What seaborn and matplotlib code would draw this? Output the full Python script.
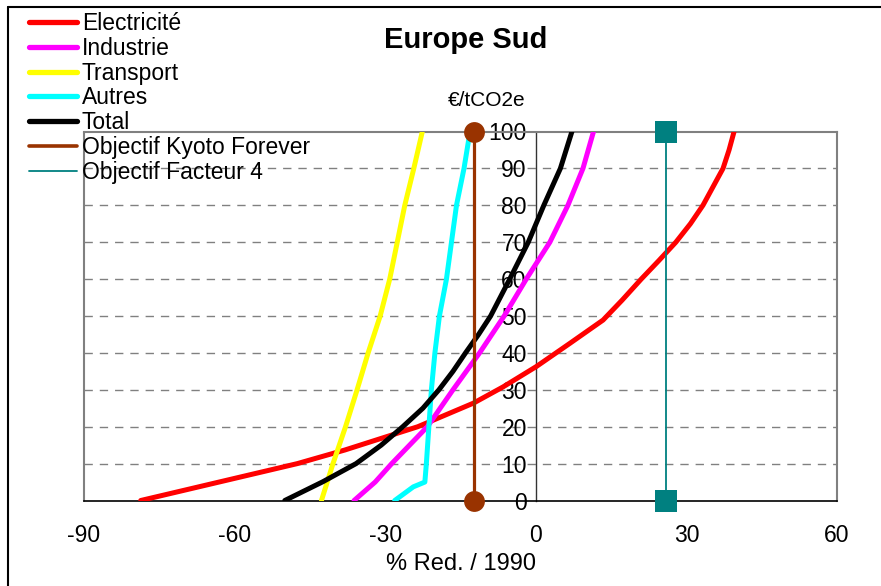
import matplotlib
matplotlib.use("Agg")
import matplotlib.pyplot as plt
from matplotlib.lines import Line2D
import seaborn as sns
import numpy as np

# ---- data ----
elec_y = [0, 10, 13.7, 20, 26.4, 30.8, 36.3, 42.6, 48.9, 54.3, 60, 65, 70, 75, 80, 85, 90, 95, 100]
elec_x = [-78.7, -47.5, -38.0, -23.5, -12.4, -6.5, 0.1, 6.8, 13.4, 17.2, 21.0, 24.5, 27.9,
          30.8, 33.3, 35.3, 37.3, 38.5, 39.5]

ind_y = [0, 5, 10, 20, 30, 40, 50, 60, 70, 80, 90, 100]
ind_x = [-36.2, -32.0, -28.7, -21.6, -16.5, -11.2, -6.3, -1.9, 2.8, 6.4, 9.4, 11.5]

trans_y = [0, 10, 20, 30, 40, 50, 60, 70, 80, 90, 100]
trans_x = [-42.7, -40.4, -37.9, -35.6, -33.4, -31.0, -29.1, -27.6, -26.1, -24.3, -22.6]

autres_y = [0, 3.7, 5, 10, 20, 30, 40, 50, 60, 70, 80, 90, 100]
autres_x = [-28.1, -24.4, -22.1, -21.8, -21.3, -20.8, -20.1, -19.2, -17.8, -16.8, -15.8, -14.3, -13.1]

total_y = [0, 5.1, 10, 15, 20, 25, 30, 35, 40, 45, 50, 60, 70, 80, 90, 100]
total_x = [-50.0, -42.4, -35.8, -30.8, -26.5, -22.5, -19.3, -16.5, -14.0, -11.4, -9.0,
           -5.2, -1.5, 1.6, 4.9, 7.2]

kyoto_x = [-12.4, -12.4]
kyoto_y = [0, 100]
f4_x = [26.0, 26.0]
f4_y = [0, 100]

labels = ["Electricité", "Industrie", "Transport", "Autres", "Total",
          "Objectif Kyoto Forever", "Objectif Facteur 4"]
colors = ["#FF0000", "#FF00FF", "#FFFF00", "#00FFFF", "#000000", "#993300", "#008080"]

xticks = [-90, -60, -30, 0, 30, 60]
yticks = [0, 10, 20, 30, 40, 50, 60, 70, 80, 90, 100]

# ---- figure ----
sns.set_style("white")
plt.rcParams['font.family'] = ['Liberation Sans', 'DejaVu Sans']
plt.rcParams['text.color'] = 'black'
plt.rcParams['xtick.color'] = 'black'
plt.rcParams['ytick.color'] = 'black'
plt.rcParams['axes.labelcolor'] = 'black'

fig = plt.figure(figsize=(8.81, 5.86), dpi=100)
ax = fig.add_axes([84/881, 1-500.5/586, (837-84)/881, (500.5-131.5)/586])

ax.set_xlim(-90, 60)
ax.set_ylim(0, 100)

# grid
for yv in yticks[1:-1]:
    ax.axhline(yv, color="#808080", lw=1.0, linestyle=(0, (6, 5)), zorder=0.5)

series = [(elec_x, elec_y), (ind_x, ind_y), (trans_x, trans_y),
          (autres_x, autres_y), (total_x, total_y)]
for (xs, ys), c in zip(series, colors[:5]):
    sns.lineplot(x=xs, y=ys, sort=False, estimator=None, ax=ax, color=c, lw=3.6,
                 solid_capstyle='round', solid_joinstyle='round', zorder=3)

sns.lineplot(x=kyoto_x, y=kyoto_y, sort=False, estimator=None, ax=ax,
             color=colors[5], lw=2.3, marker='o', markersize=15,
             markeredgewidth=0, clip_on=False, zorder=4)
sns.lineplot(x=f4_x, y=f4_y, sort=False, estimator=None, ax=ax,
             color=colors[6], lw=1.3, marker='s', markersize=16.5,
             markeredgewidth=0, clip_on=False, zorder=4)

# spines
for s in ['top', 'right']:
    ax.spines[s].set_color("#808080")
    ax.spines[s].set_linewidth(1.5)
ax.spines['bottom'].set_color("black")
ax.spines['bottom'].set_linewidth(1.2)
ax.spines['left'].set_position(('data', 0))
ax.spines['left'].set_color("#333333")
ax.spines['left'].set_linewidth(1.0)
ax.axvline(-90, color="#808080", lw=1.5, zorder=0.6, clip_on=False)

ax.set_xticks(xticks)
ax.set_xticklabels([str(v) for v in xticks])
ax.set_yticks(yticks)
ax.set_yticklabels([str(v) for v in yticks])
ax.tick_params(axis='x', direction='out', length=6, width=1, color='black',
               labelsize=16.5, pad=11)
ax.tick_params(axis='y', direction='out', length=6.5, width=1, color='#333333',
               labelsize=16.5, pad=0)
for lab in ax.get_yticklabels():
    lab.set_zorder(5)

ax.set_xlabel("% Red. / 1990", fontsize=17, labelpad=4)
ax.set_ylabel("")
ax.text(-9.8, 108.5, "€/tCO2e", fontsize=15, ha='center', va='center', clip_on=False)

fig.text(466/881, 1-40/586, "Europe Sud", fontsize=21, fontweight='bold',
         ha='center', va='center')

# legend
handles = [Line2D([], [], color=c, lw=lw) for c, lw in
           zip(colors, [3.8, 3.8, 3.8, 3.8, 3.8, 2.6, 1.3])]
fig.legend(handles, labels, loc='upper left', bbox_to_anchor=(29/881, 1-12/586),
           frameon=False, fontsize=16.5, handlelength=2.1, handletextpad=0.2,
           labelspacing=0.08, borderaxespad=0, borderpad=0)

# figure border (top and left)
fig.add_artist(Line2D([8/881, 1.0], [1-7/586, 1-7/586], color='black', lw=1.5,
                      transform=fig.transFigure))
fig.add_artist(Line2D([8/881, 8/881], [0, 1-7/586], color='black', lw=1.5,
                      transform=fig.transFigure))

fig.savefig("out.png", dpi=100)
